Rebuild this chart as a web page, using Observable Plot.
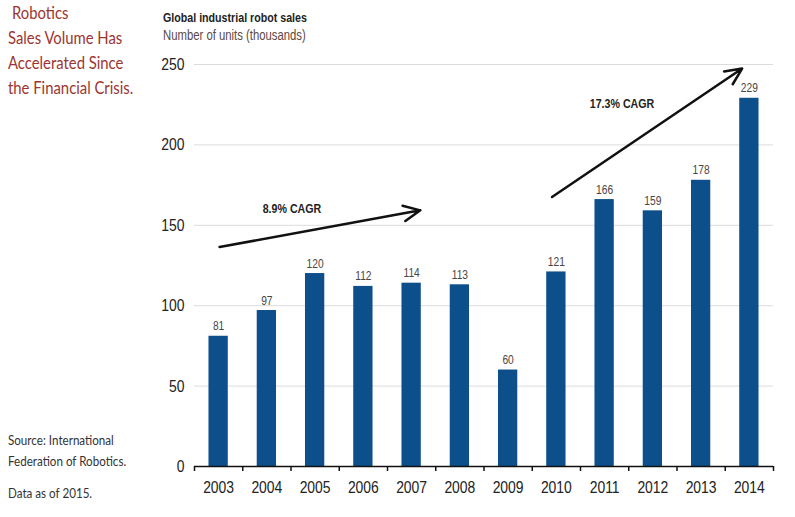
<!DOCTYPE html>
<html>
<head>
<meta charset="utf-8">
<script src="https://cdn.jsdelivr.net/npm/d3@7"></script>
<script src="https://cdn.jsdelivr.net/npm/@observablehq/plot@0.6"></script>
<style>
  html, body { margin: 0; padding: 0; background: #fff; }
  #wrap { position: relative; width: 795px; height: 517px; overflow: hidden; }
  .t { position: absolute; white-space: nowrap; line-height: 1; transform-origin: 0 0; }
  .side { font-family: Lato, "Open Sans", sans-serif; color: #9c3530; font-size: 16.5px; transform: scaleX(0.9); }
  .src { font-family: Lato, "Open Sans", sans-serif; color: #333; font-size: 12.5px; transform: scaleX(0.93); }
  .narrow { font-family: "Liberation Sans", Arial, sans-serif; transform: scaleX(0.82); }
  #plot { position: absolute; left: 0; top: 0; }
</style>
</head>
<body>
<div id="wrap">
  <div id="plot"></div>
</div>
<script>
const years = [2003, 2004, 2005, 2006, 2007, 2008, 2009, 2010, 2011, 2012, 2013, 2014];
const sales = [81, 97, 120, 112, 114, 113, 60, 121, 166, 159, 178, 229];
const yTicks = [0, 50, 100, 150, 200, 250];

const arrowX1 = [2003.02, 2009.91];
const arrowY1 = [136.5, 167.6];
const arrowX2 = [2007.18, 2013.85];
const arrowY2 = [159.3, 247.5];

const cagrLabels = ["8.9% CAGR", "17.3% CAGR"];
const cagrX = [2004.52, 2011.36];
const cagrY = [160.5, 225.7];

const titleText = "Global industrial robot sales";
const subtitleText = "Number of units (thousands)";
const sideLines = ["Robotics", "Sales Volume Has", "Accelerated Since", "the Financial Crisis."];
const sourceLines = ["Source: International", "Federation of Robotics.", "Data as of 2015."];

const bars = years.map((y, i) => ({year: y, value: sales[i]}));
const arrows = arrowX1.map((x, i) => ({x1: x, y1: arrowY1[i], x2: arrowX2[i], y2: arrowY2[i]}));
const cagr = cagrLabels.map((t, i) => ({text: t, x: cagrX[i], y: cagrY[i]}));
const boundaries = [...years.map(y => y - 0.5), years[years.length - 1] + 0.5];

const font = '"Liberation Sans", Arial, sans-serif';

const chart = Plot.plot({
  width: 795,
  height: 517,
  marginLeft: 194,
  marginRight: 22,
  marginTop: 64,
  marginBottom: 51,
  style: {fontFamily: font, background: "white", overflow: "visible"},
  x: {domain: [2002.5, 2014.5]},
  y: {domain: [0, 250]},
  marks: [
    Plot.gridY(yTicks.filter(d => d > 0), {stroke: "#dcdcdc", strokeOpacity: 1, strokeWidth: 1}),
    Plot.rectY(bars, {x1: d => d.year - 0.2, x2: d => d.year + 0.2, y: "value", fill: "#0d4f8b"}),
    Plot.text(bars, {x: "year", y: "value", text: d => String(d.value), dy: -6, lineAnchor: "bottom", fontSize: 12.5, fill: "#4a4444"}),
    Plot.ruleY([0], {stroke: "#111", strokeWidth: 1.5}),
    Plot.axisX({ticks: boundaries, tickSize: 5, tickFormat: () => "", stroke: "#111", strokeWidth: 1.5}),
    Plot.axisX({ticks: years, tickSize: 0, tickPadding: 14, tickFormat: d => String(d), fontSize: 17, fill: "#222"}),
    Plot.axisY({ticks: yTicks, tickSize: 0, tickPadding: 10, fontSize: 17, fill: "#222"}),
    Plot.arrow(arrows, {x1: "x1", y1: "y1", x2: "x2", y2: "y2", stroke: "#111", strokeWidth: 2.5, headLength: 11, headAngle: 50}),
    Plot.text(cagr, {x: "x", y: "y", text: "text", fontSize: 13, fontWeight: "bold", fill: "#222"})
  ]
});

// narrow the SVG text horizontally (emulates a condensed face) about each text's own anchor point
chart.querySelectorAll("text").forEach(t => {
  const x = parseFloat(t.getAttribute("x") || "0");
  const y = parseFloat(t.getAttribute("y") || "0");
  const tr = t.getAttribute("transform") || "";
  t.setAttribute("transform", `${tr} translate(${x},${y}) scale(0.82,1) translate(${-x},${-y})`);
});

document.getElementById("plot").appendChild(chart);

const wrap = document.getElementById("wrap");
function addText(txt, cls, left, top, extra) {
  const d = document.createElement("div");
  d.className = "t " + cls;
  d.textContent = txt;
  d.style.left = left + "px";
  d.style.top = top + "px";
  if (extra) Object.assign(d.style, extra);
  wrap.appendChild(d);
}
addText(titleText, "narrow", 163, 11, {fontWeight: "bold", fontSize: "13px", color: "#222"});
addText(subtitleText, "narrow", 163, 29, {fontSize: "13.8px", color: "#5b4a44"});
const sideTops = [5, 30, 55, 80];
sideLines.forEach((s, i) => addText(s, "side", i === 0 ? 12 : 8, sideTops[i]));
const srcTops = [435, 456, 488];
sourceLines.forEach((s, i) => addText(s, "src", 8, srcTops[i]));
</script>
</body>
</html>
